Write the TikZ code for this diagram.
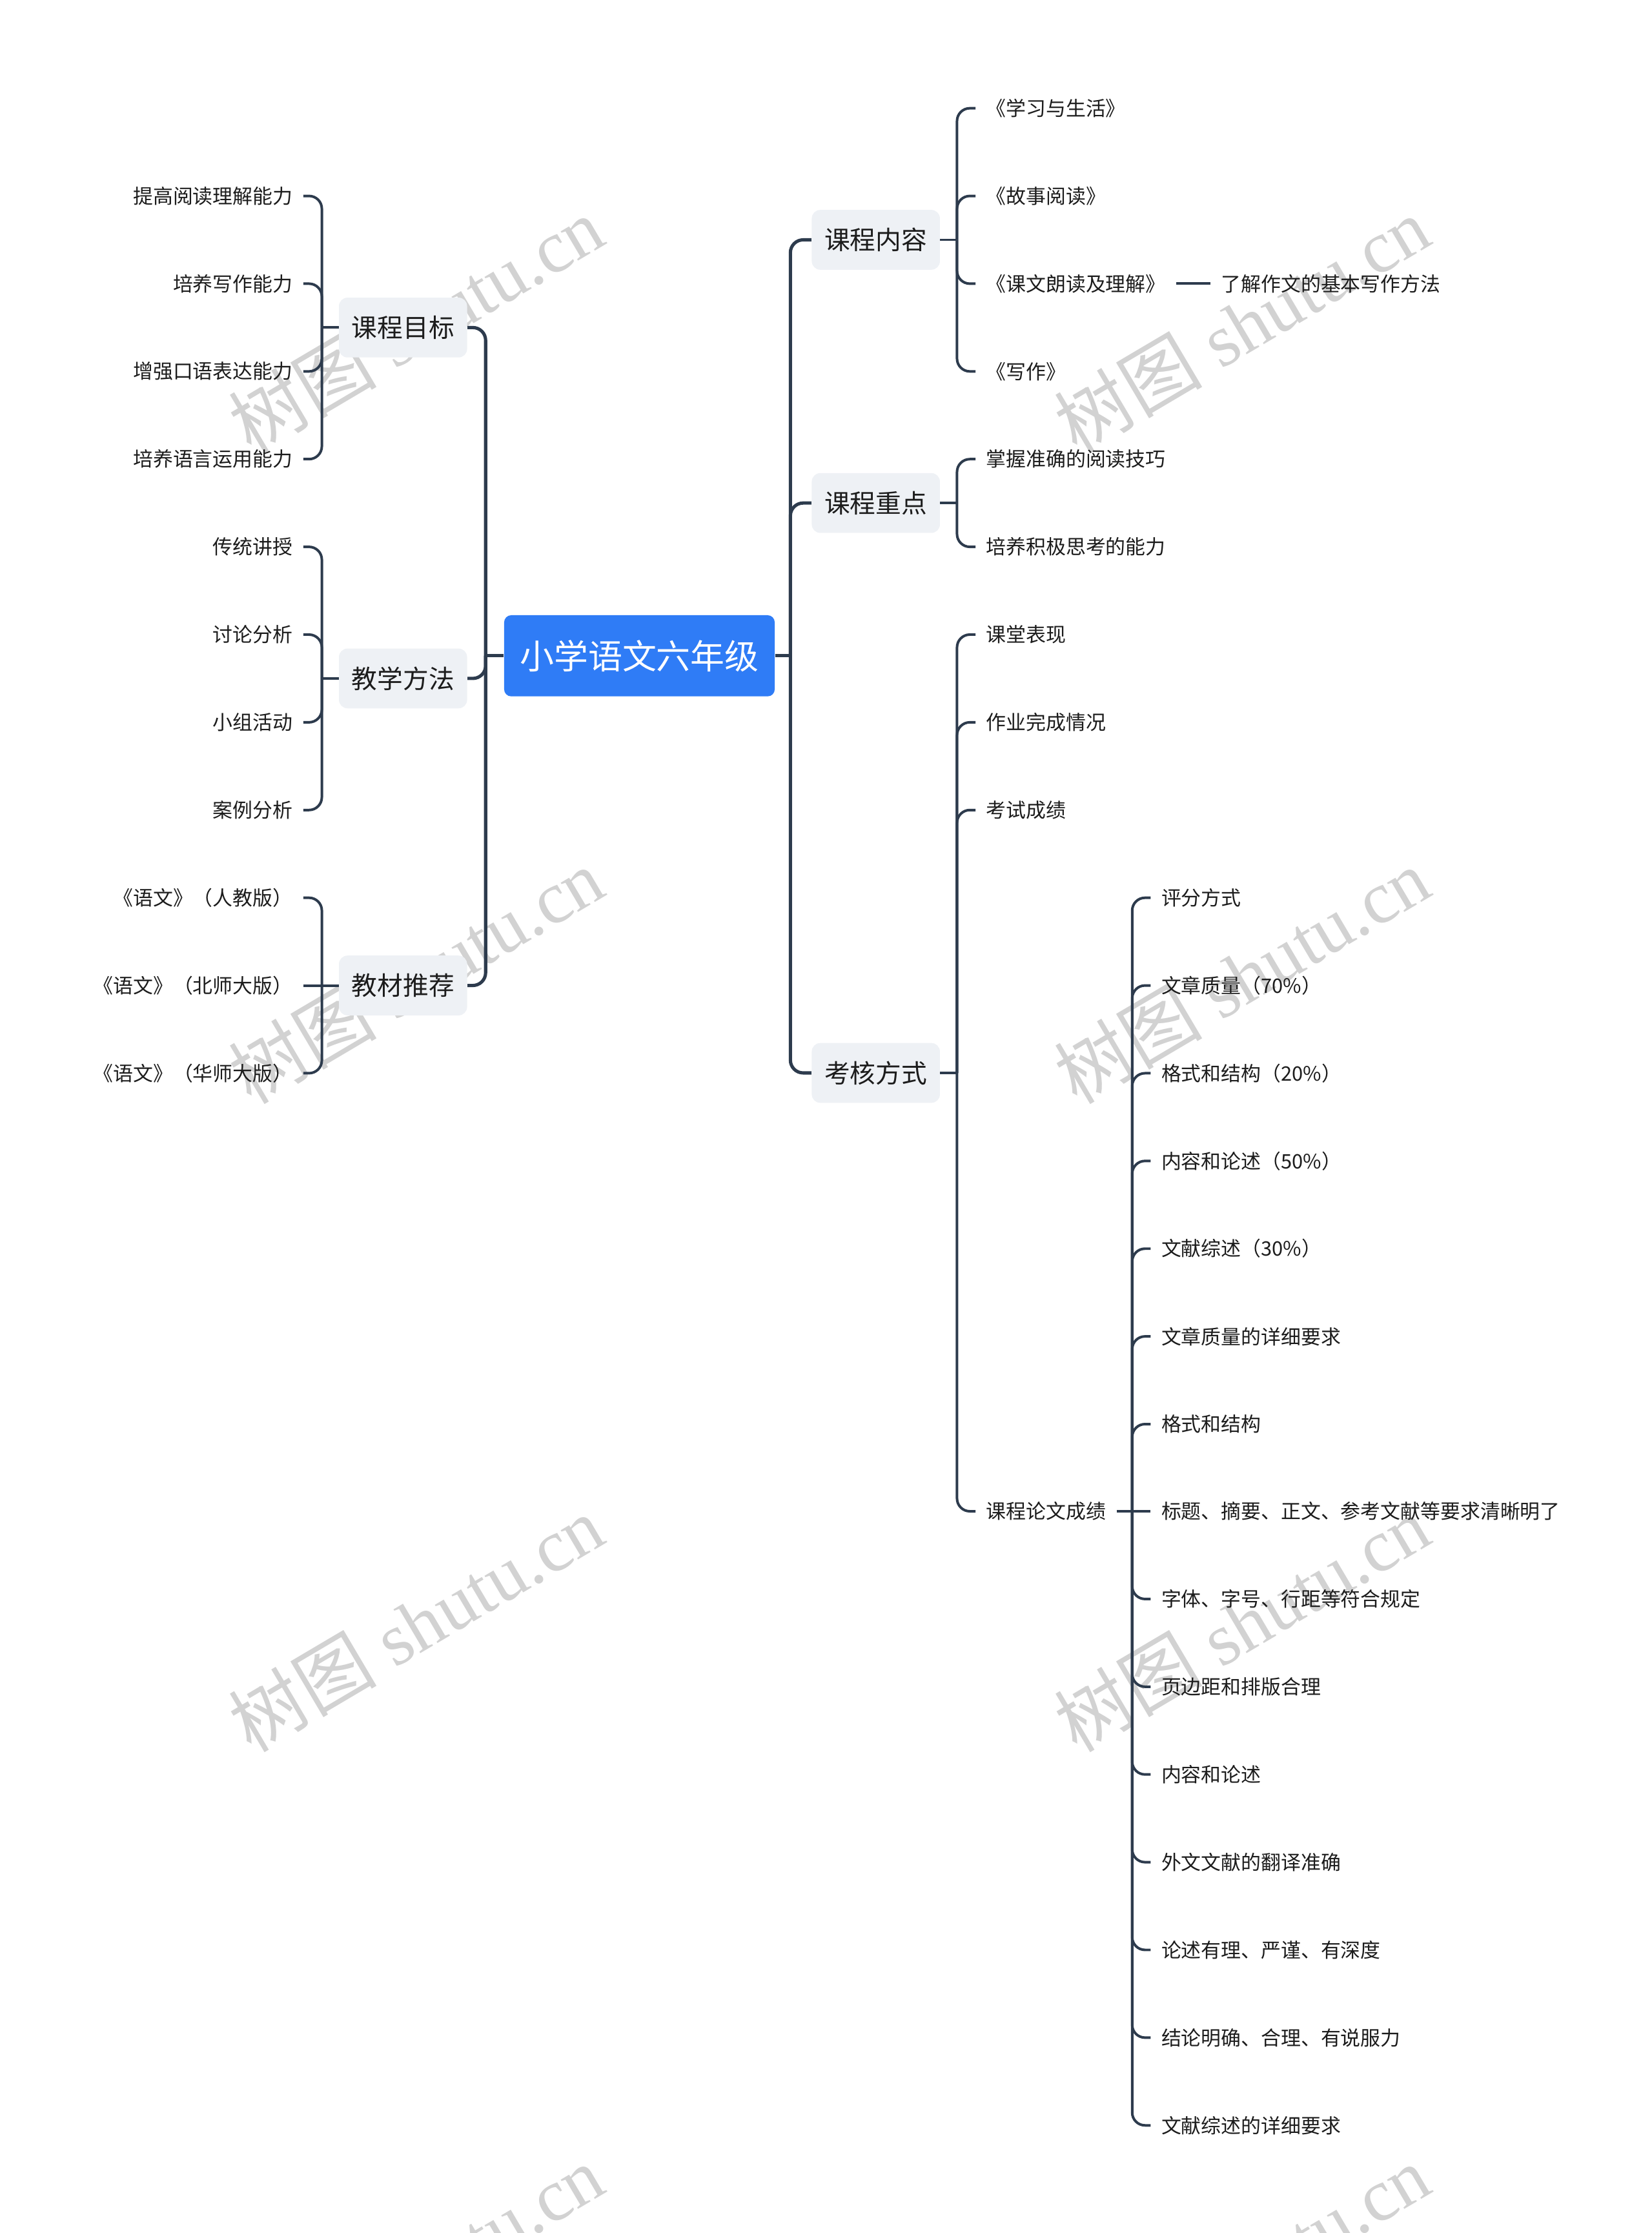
\documentclass[tikz,border=0pt]{standalone}
\usepackage{fontspec}
\setmainfont{Noto Sans CJK SC}
\newfontfamily\wmlatin{Liberation Serif}
\newfontfamily\wmcjk{Noto Sans CJK SC}
\definecolor{linec}{HTML}{2D3B4D}
\definecolor{rootblue}{HTML}{2F7CF6}
\definecolor{boxgray}{HTML}{EEF1F5}
\definecolor{txt}{HTML}{1C1C1C}
\definecolor{wmgray}{HTML}{D2D2D2}
\newcommand\leafsz{\fontsize{14}{16}\selectfont}
\newcommand\mainsz{\fontsize{18}{20}\selectfont}
\newcommand\rootsz{\fontsize{24}{26}\selectfont}
\newcommand\wmsz{\fontsize{52}{56}\selectfont}
\tikzset{
  rootbox/.style={fill=rootblue, rounded corners=5pt, text=white, font=\rootsz,
    minimum width=190pt, minimum height=57pt, inner sep=0pt},
  mainbox/.style={fill=boxgray, rounded corners=6pt, text=txt, font=\mainsz,
    minimum width=90pt, minimum height=42pt, inner sep=0pt},
  leafR/.style={anchor=west, inner sep=0pt, outer xsep=7.5pt, outer ysep=0pt, text=txt, font=\leafsz},
  leafL/.style={anchor=east, inner sep=0pt, outer xsep=7.5pt, outer ysep=0pt, text=txt, font=\leafsz},
  conn/.style={draw=linec, line width=2.3pt, rounded corners=9pt},
  sub/.style={draw=linec, line width=1.8pt, rounded corners=9pt},
  wm/.style={text=wmgray, font=\wmsz\wmlatin, inner sep=0pt, rotate=30.6}
}
\begin{document}
\begin{tikzpicture}[x=1pt,y=-1pt]
\useasboundingbox (0,0) rectangle (1160,1568);
% watermark
\begin{scope}
\clip (0,0) rectangle (1160,1568);
\foreach \wx/\wy [count=\i] in {292/228, 872/228, 292/685, 872/685, 292/1140, 872/1140, 292/1596, 872/1596}
  \node[wm] (wm\i) at (\wx,\wy) {{\wmcjk 树图} shutu.cn};
\end{scope}

% root and main branches
\node[rootbox] (root) at (449,460.5) {小学语文六年级};
\node[mainbox] (g1) at (283,230) {课程目标};
\node[mainbox] (g2) at (283,476.4) {教学方法};
\node[mainbox] (g3) at (283,692) {教材推荐};
\node[mainbox] (r1) at (615,168.4) {课程内容};
\node[mainbox] (r2) at (615,353.2) {课程重点};
\node[mainbox] (r3) at (615,753.4) {考核方式};

\coordinate (tl) at (341,460.5);
\coordinate (tr) at (555,460.5);
\draw[conn] (root.west) -- (tl);
\draw[conn] (root.east) -- (tr);
\draw[conn] (tl) |- (g1.east);
\draw[conn] (tl) |- (g2.east);
\draw[conn] (tl) |- (g3.east);
\draw[conn] (tr) |- (r1.west);
\draw[conn] (tr) |- (r2.west);
\draw[conn] (tr) |- (r3.west);

% left leaves
\node[leafL] (a1) at (213,137.6) {提高阅读理解能力};
\node[leafL] (a2) at (213,199.2) {培养写作能力};
\node[leafL] (a3) at (213,260.8) {增强口语表达能力};
\node[leafL] (a4) at (213,322.4) {培养语言运用能力};
\node[leafL] (m1) at (213,384) {传统讲授};
\node[leafL] (m2) at (213,445.6) {讨论分析};
\node[leafL] (m3) at (213,507.2) {小组活动};
\node[leafL] (m4) at (213,568.8) {案例分析};
\node[leafL] (t1) at (213,630.4) {《语文》（人教版）};
\node[leafL] (t2) at (213,692) {《语文》（北师大版）};
\node[leafL] (t3) at (213,753.6) {《语文》（华师大版）};

\coordinate (bg1) at (226,230);
\coordinate (bg2) at (226,476.4);
\coordinate (bg3) at (226,692);
\draw[sub] (g1.west) -- (bg1);
\draw[sub] (g2.west) -- (bg2);
\foreach \c in {a1,a2,a3,a4} \draw[sub] (bg1) |- (\c.east);
\foreach \c in {m1,m2,m3,m4} \draw[sub] (bg2) |- (\c.east);
\draw[sub] (g3.west) -- (t2.east);
\draw[sub] (bg3) |- (t1.east);
\draw[sub] (bg3) |- (t3.east);

% right leaves
\node[leafR] (c1) at (685,76) {《学习与生活》};
\node[leafR] (c2) at (685,137.6) {《故事阅读》};
\node[leafR] (c3) at (685,199.2) {《课文朗读及理解》};
\node[leafR] (c4) at (685,260.8) {《写作》};
\node[leafR] (c3a) at (850,199.2) {了解作文的基本写作方法};
\node[leafR] (p1) at (685,322.4) {掌握准确的阅读技巧};
\node[leafR] (p2) at (685,384) {培养积极思考的能力};
\node[leafR] (e1) at (685,445.6) {课堂表现};
\node[leafR] (e2) at (685,507.2) {作业完成情况};
\node[leafR] (e3) at (685,568.8) {考试成绩};
\node[leafR] (e4) at (685,1061.2) {课程论文成绩};

\coordinate (br1) at (672,168.4);
\coordinate (br2) at (672,353.2);
\coordinate (br3) at (672,753.4);
\draw[sub] (r1.east) -- (br1);
\draw[sub] (r2.east) -- (br2);
\draw[sub] (r3.east) -- (br3);
\foreach \c in {c1,c2,c3,c4} \draw[sub] (br1) |- (\c.west);
\foreach \c in {p1,p2} \draw[sub] (br2) |- (\c.west);
\foreach \c in {e1,e2,e3,e4} \draw[sub] (br3) |- (\c.west);
\draw[sub] (c3.east) -- (c3a.west);

% 课程论文成绩 children
\node[leafR] (k1) at (808,630.4) {评分方式};
\node[leafR] (k2) at (808,692) {文章质量（70\%）};
\node[leafR] (k3) at (808,753.6) {格式和结构（20\%）};
\node[leafR] (k4) at (808,815.2) {内容和论述（50\%）};
\node[leafR] (k5) at (808,876.8) {文献综述（30\%）};
\node[leafR] (k6) at (808,938.4) {文章质量的详细要求};
\node[leafR] (k7) at (808,1000) {格式和结构};
\node[leafR] (k8) at (808,1061.2) {标题、摘要、正文、参考文献等要求清晰明了};
\node[leafR] (k9) at (808,1122.8) {字体、字号、行距等符合规定};
\node[leafR] (k10) at (808,1184.4) {页边距和排版合理};
\node[leafR] (k11) at (808,1246) {内容和论述};
\node[leafR] (k12) at (808,1307.6) {外文文献的翻译准确};
\node[leafR] (k13) at (808,1369.2) {论述有理、严谨、有深度};
\node[leafR] (k14) at (808,1430.8) {结论明确、合理、有说服力};
\node[leafR] (k15) at (808,1492.4) {文献综述的详细要求};

\coordinate (bk) at (795,1061.2);
\draw[sub] (e4.east) -- (k8.west);
\foreach \c in {k1,k2,k3,k4,k5,k6,k7,k9,k10,k11,k12,k13,k14,k15} \draw[sub] (bk) |- (\c.west);
\end{tikzpicture}
\end{document}
